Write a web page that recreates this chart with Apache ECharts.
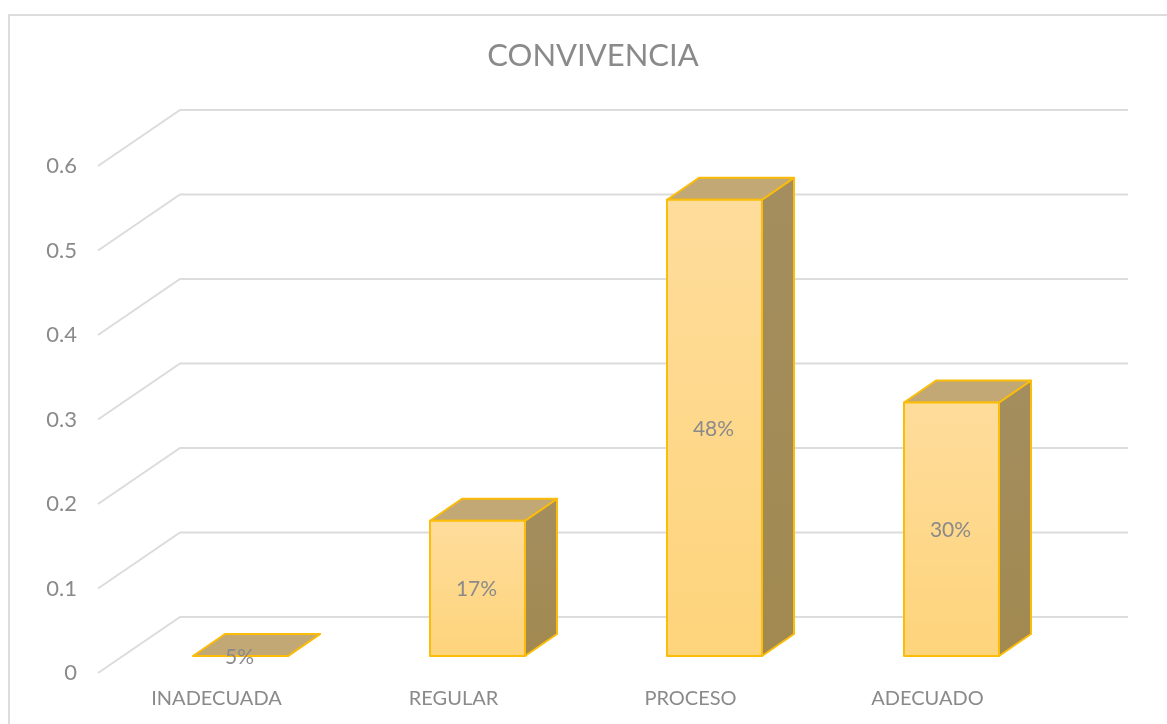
<!DOCTYPE html>
<html>
<head>
<meta charset="utf-8">
<title>CONVIVENCIA</title>
<script src="https://cdn.jsdelivr.net/npm/echarts@6/dist/echarts.min.js"></script>
<style>
  html, body { margin: 0; padding: 0; background: #fff; }
  #chart { width: 1167px; height: 724px; }
</style>
</head>
<body>
<div id="chart"></div>
<script>
const categories = ['INADECUADA', 'REGULAR', 'PROCESO', 'ADECUADO'];
const barValues = [0, 0.16, 0.54, 0.30];
const barLabels = ['5%', '17%', '48%', '30%'];
const yTicks = [0, 0.1, 0.2, 0.3, 0.4, 0.5, 0.6];

// profundidad del "3D": pared trasera y caja de cada barra
const WALL_DX = 82, WALL_DY = -56;
const GAP_DX = 24, GAP_DY = -17;
const BOX_DX = 32, BOX_DY = -22;
const BAR_W = 95;

const textColor = '#8a8a8a';
const fontFamily = 'Lato, "Open Sans", sans-serif';

const chart = echarts.init(document.getElementById('chart'), null, { renderer: 'canvas' });

const renderWall = (params, api) => {
  const cs = params.coordSys;
  const p = api.coord([0, api.value(0)]);
  return {
    type: 'polyline',
    silent: true,
    shape: {
      points: [
        [cs.x, p[1]],
        [cs.x + WALL_DX, p[1] + WALL_DY],
        [cs.x + cs.width + WALL_DX, p[1] + WALL_DY]
      ]
    },
    style: { stroke: '#dcdcdc', lineWidth: 2, fill: null }
  };
};

const renderBar = (params, api) => {
  const idx = api.value(0);
  const top = api.coord([idx, api.value(1)]);
  const base = api.coord([idx, 0]);
  const xl = top[0] + GAP_DX - BAR_W / 2;
  const xr = xl + BAR_W;
  const yt = top[1] + GAP_DY;
  const yb = base[1] + GAP_DY;
  const edge = { stroke: '#fcbc0a', lineWidth: 2, lineJoin: 'round' };
  const children = [
    {
      type: 'polygon',
      shape: { points: [[xr, yt], [xr + BOX_DX, yt + BOX_DY], [xr + BOX_DX, yb + BOX_DY], [xr, yb]] },
      style: {
        fill: new echarts.graphic.LinearGradient(0, 0, 0, 1, [
          { offset: 0, color: '#a48e5f' },
          { offset: 1, color: '#a18950' }
        ]),
        ...edge
      }
    },
    {
      type: 'polygon',
      shape: { points: [[xl, yt], [xl + BOX_DX, yt + BOX_DY], [xr + BOX_DX, yt + BOX_DY], [xr, yt]] },
      style: { fill: '#c1a875', ...edge }
    }
  ];
  if (yb - yt > 0.5) {
    children.push({
      type: 'rect',
      shape: { x: xl, y: yt, width: BAR_W, height: yb - yt },
      style: {
        fill: new echarts.graphic.LinearGradient(0, 0, 0, 1, [
          { offset: 0, color: '#fedc9b' },
          { offset: 1, color: '#fed47b' }
        ]),
        ...edge
      }
    });
  } else {
    children.push({
      type: 'line',
      shape: { x1: xl, y1: yt, x2: xr, y2: yt },
      style: edge
    });
  }
  children.push({
    type: 'text',
    style: {
      x: (xl + xr) / 2 - 1,
      y: (yt + yb) / 2 + 1,
      text: barLabels[idx],
      fill: textColor,
      font: '21px ' + fontFamily,
      textAlign: 'center',
      textVerticalAlign: 'middle'
    }
  });
  return { type: 'group', children };
};

const option = {
  backgroundColor: '#fff',
  animation: false,
  title: {
    text: 'CONVIVENCIA',
    left: 588,
    top: 35,
    textAlign: 'center',
    textStyle: { color: textColor, fontSize: 31, fontWeight: 'normal', fontFamily }
  },
  // marco exterior del grafico, abierto por abajo y a la derecha
  graphic: [{
    type: 'polyline',
    silent: true,
    shape: { points: [[9, 724], [9, 15], [1167, 15]] },
    style: { stroke: '#dcdcdc', lineWidth: 2, fill: null }
  }],
  grid: { left: 98, top: 166, width: 948, height: 507 },
  xAxis: {
    type: 'category',
    data: categories,
    axisLine: { show: false },
    axisTick: { show: false },
    axisLabel: { color: textColor, fontSize: 20, fontFamily, margin: 16 }
  },
  yAxis: {
    type: 'value',
    min: 0,
    max: 0.6,
    interval: 0.1,
    axisLine: { show: false },
    axisTick: { show: false },
    splitLine: { show: false },
    axisLabel: { color: textColor, fontSize: 22, fontFamily, margin: 21 }
  },
  series: [
    {
      type: 'custom',
      coordinateSystem: 'cartesian2d',
      renderItem: renderWall,
      encode: { y: 0 },
      data: yTicks.map(v => [v]),
      z: 1,
      silent: true
    },
    {
      type: 'custom',
      coordinateSystem: 'cartesian2d',
      renderItem: renderBar,
      encode: { x: 0, y: 1 },
      data: barValues.map((v, i) => [i, v]),
      z: 2
    }
  ]
};

chart.setOption(option);
window.addEventListener('resize', () => chart.resize());
</script>
</body>
</html>
